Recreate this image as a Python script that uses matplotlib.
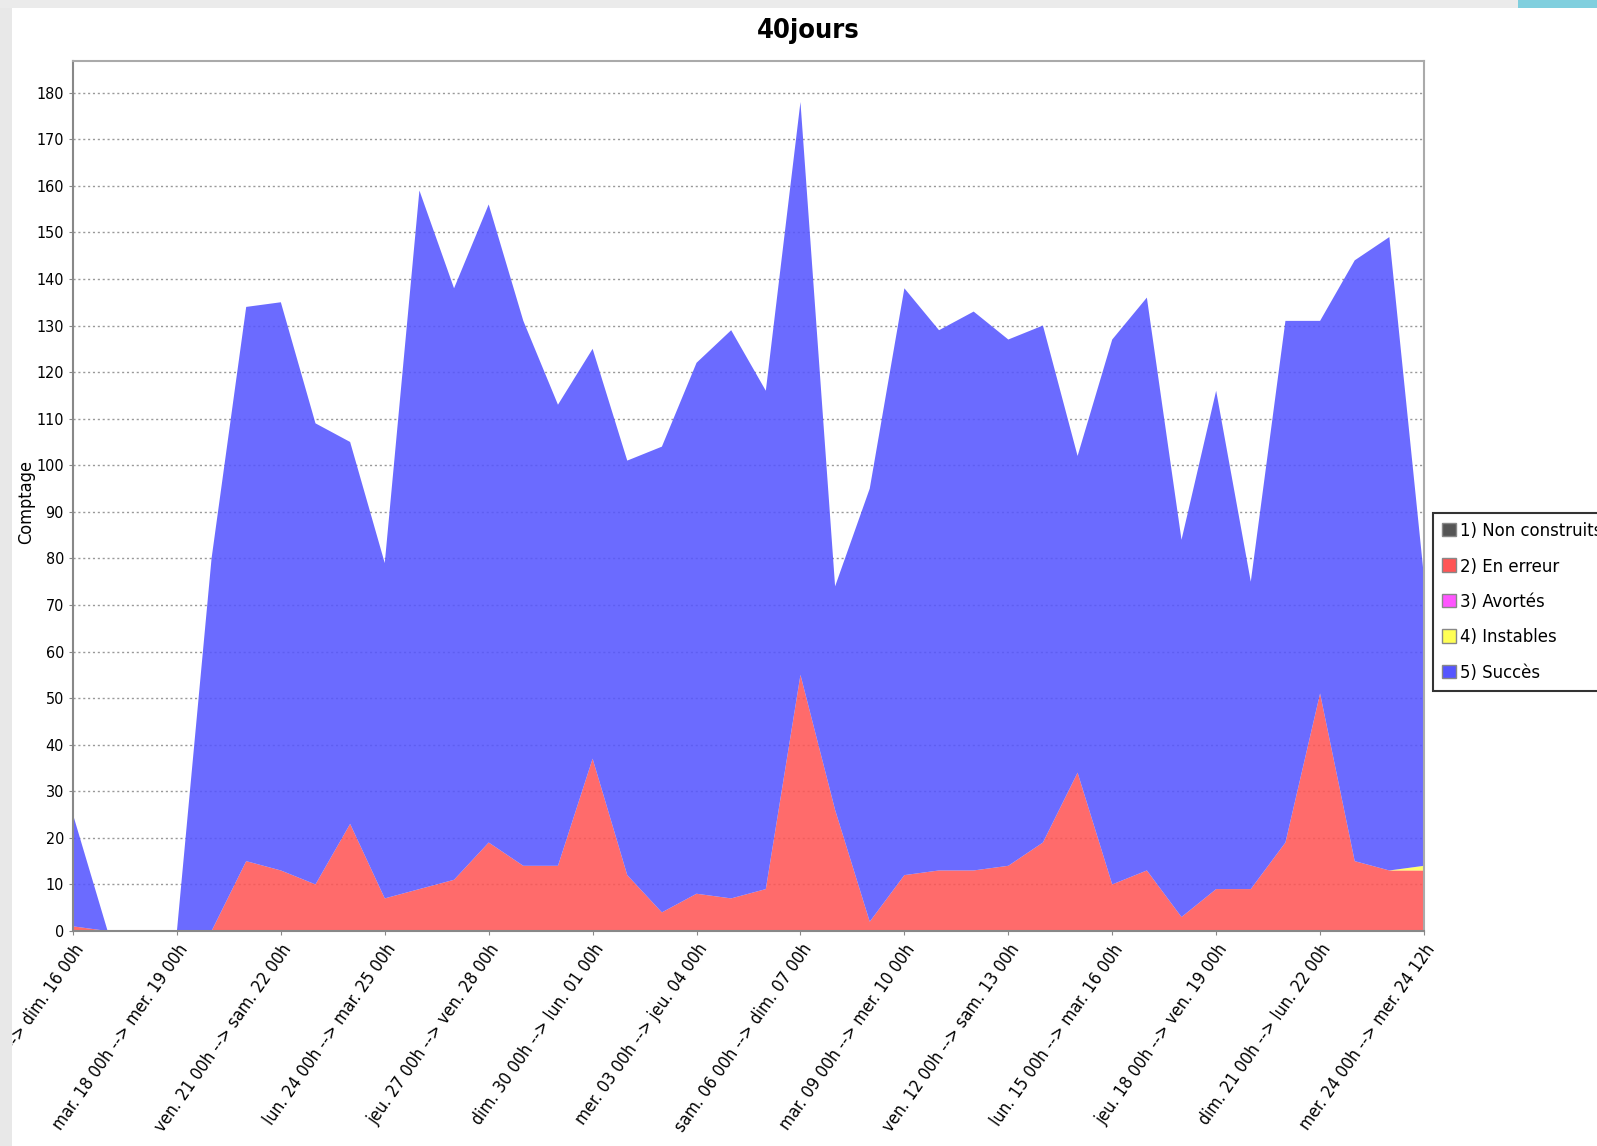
import numpy as np
import matplotlib.pyplot as plt
from matplotlib.patches import Patch, Rectangle

plt.rcParams["font.stretch"] = "condensed"

# series (one value per day, 40 points)
non_construits = [0] * 40
en_erreur = [1, 0, 0, 0, 0, 15, 13, 10, 23, 7, 9, 11, 19, 14, 14, 37, 12, 4, 8, 7,
             9, 55, 26, 2, 12, 13, 13, 14, 19, 34, 10, 13, 3, 9, 9, 19, 51, 15, 13, 13]
avortes = [0] * 40
instables = [0] * 39 + [1]
succes = [24, 0, 0, 0, 80, 119, 122, 99, 82, 72, 150, 127, 137, 117, 99, 88, 89, 100, 114, 122,
          107, 123, 48, 93, 126, 116, 120, 113, 111, 68, 117, 123, 81, 107, 66, 112, 80, 129, 136, 62]

tick_labels = ["sam. 15 00h --> dim. 16 00h", "mar. 18 00h --> mer. 19 00h",
               "ven. 21 00h --> sam. 22 00h", "lun. 24 00h --> mar. 25 00h",
               "jeu. 27 00h --> ven. 28 00h", "dim. 30 00h --> lun. 01 00h",
               "mer. 03 00h --> jeu. 04 00h", "sam. 06 00h --> dim. 07 00h",
               "mar. 09 00h --> mer. 10 00h", "ven. 12 00h --> sam. 13 00h",
               "lun. 15 00h --> mar. 16 00h", "jeu. 18 00h --> ven. 19 00h",
               "dim. 21 00h --> lun. 22 00h", "mer. 24 00h --> mer. 24 12h"]

noms = ["1) Non construits", "2) En erreur", "3) Avortés", "4) Instables", "5) Succès"]
couleurs = ["#555555", "#FF5555", "#FF55FF", "#FFFF55", "#5555FF"]

W, H = 1597, 1146
fig = plt.figure(figsize=(W / 100, H / 100), dpi=100)
ax = fig.add_axes([73 / W, 1 - 931 / H, (1424 - 73) / W, (931 - 61) / H])

x = np.arange(40)
ax.stackplot(x, non_construits, en_erreur, avortes, instables, succes,
             colors=couleurs, alpha=0.87, linewidth=0)

ax.set_xlim(0, 39)
ax.set_ylim(0, 186.8)
ax.set_yticks(range(0, 181, 10))
ax.set_xticks(range(0, 40, 3))
ax.set_xticklabels(tick_labels, rotation=55, ha="right", va="top",
                   rotation_mode="anchor", fontsize=12.5)
ax.tick_params(axis="y", labelsize=11.5, length=3, color="#888888")
ax.tick_params(axis="x", length=3, color="#888888", pad=4)
ax.yaxis.grid(True, color="#999999", linestyle=(0, (1.5, 2)), linewidth=1)
ax.set_axisbelow(True)
for s in ax.spines.values():
    s.set_color("#AAAAAA")
    s.set_linewidth(1.5)
ax.spines["left"].set_color("#888888")
ax.spines["bottom"].set_color("#888888")

fig.text(26 / W, 1 - 502 / H, "Comptage", rotation=90, ha="center", va="center", fontsize=13)
fig.text(808 / W, 1 - 31 / H, "40jours", ha="center", va="center",
         fontsize=19.5, fontweight="bold")

handles = [Patch(facecolor=c, edgecolor="#888888") for c in couleurs]
leg = fig.legend(handles, noms, loc="upper left", bbox_to_anchor=(1433 / W, 1 - 513 / H),
                 fontsize=13.2, frameon=True, fancybox=False, handlelength=0.75,
                 handleheight=0.75, handletextpad=0.2, labelspacing=0.95,
                 borderpad=0.5, borderaxespad=0)
leg.get_frame().set_edgecolor("black")
leg.get_frame().set_linewidth(1.5)

# page border around the screenshot
fig.patches.append(Rectangle((0, 0), 12 / W, 1, transform=fig.transFigure,
                             facecolor="#E8E8E8", edgecolor="none", zorder=10))
fig.patches.append(Rectangle((0, 1 - 8 / H), 1518 / W, 8 / H, transform=fig.transFigure,
                             facecolor="#EBEBEB", edgecolor="none", zorder=10))
fig.patches.append(Rectangle((1518 / W, 1 - 8 / H), 1 - 1518 / W, 8 / H, transform=fig.transFigure,
                             facecolor="#80CFDE", edgecolor="none", zorder=10))

fig.savefig("out.png", dpi=100)
